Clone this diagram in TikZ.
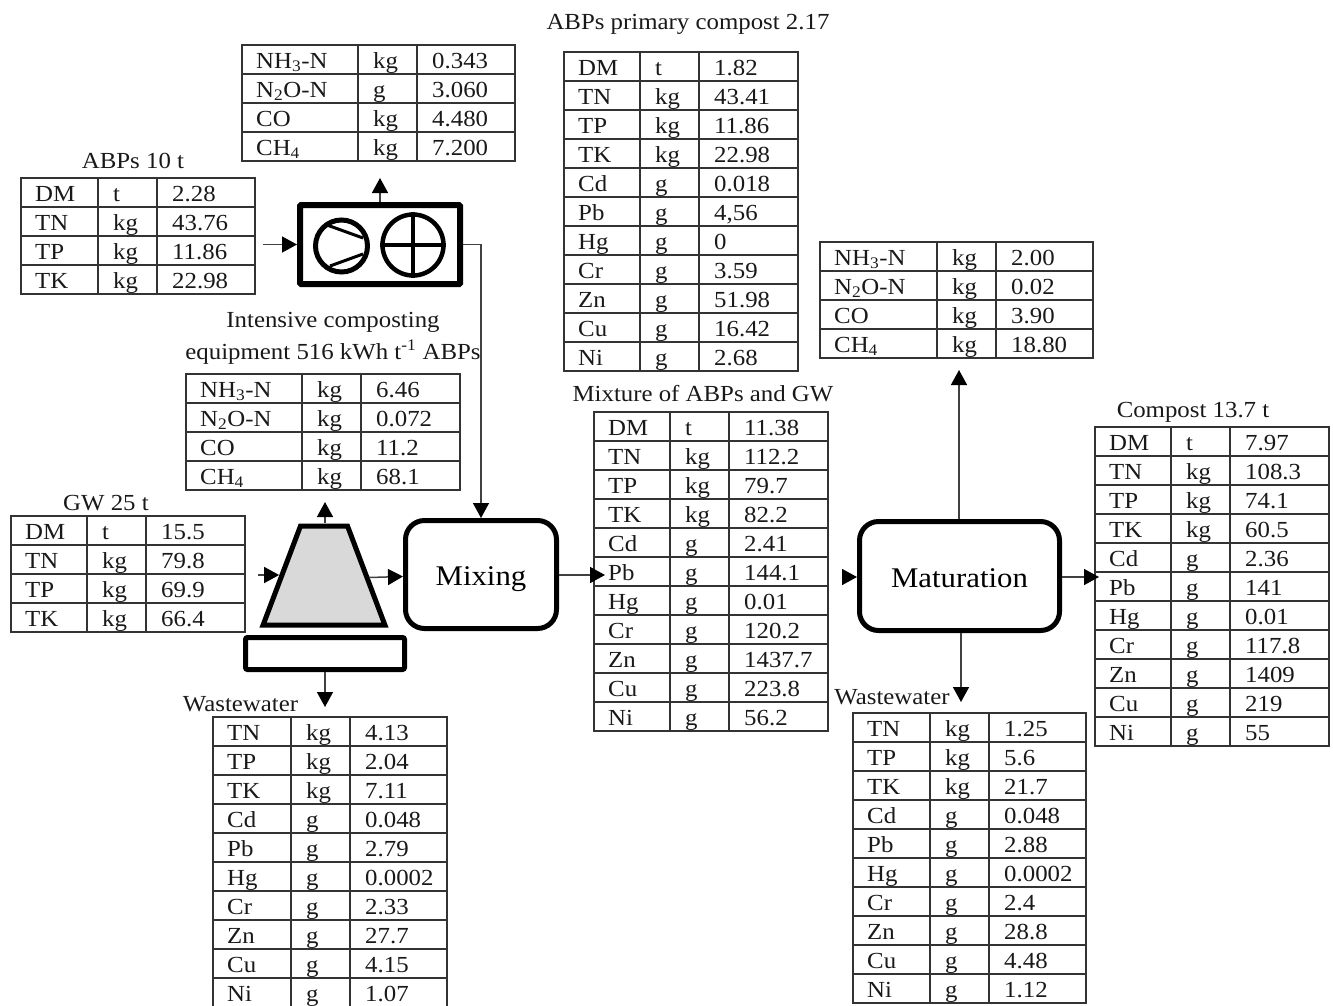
\documentclass[tikz,border=0pt]{standalone}
\usepackage{fontspec}
\setmainfont[FakeStretch=1.08]{Liberation Serif}
\usetikzlibrary{arrows.meta, positioning, shapes.geometric, calc}

% one table: name, column edges x0 x1 x2 x3, top edge, rows label/unit/value
\newcommand{\flowtable}[7]{
  \foreach \lab/\unit/\val [count=\r] in {#7} {
    \draw[tableline] (#2,#6+29*\r-29) rectangle (#5,#6+29*\r);
    \draw[tableline] (#3,#6+29*\r-29) -- (#3,#6+29*\r);
    \draw[tableline] (#4,#6+29*\r-29) -- (#4,#6+29*\r);
    \node[celltext, anchor=base west] (#1-lab\r) at (#2+14,#6+29*\r-6) {\lab};
    \node[celltext, anchor=base west] (#1-unit\r) at (#3+15,#6+29*\r-6) {\unit};
    \node[celltext, anchor=base west] (#1-val\r) at (#4+15,#6+29*\r-6) {\val};
  }
}

\begin{document}
\begin{tikzpicture}[
  x=1pt, y=-1pt,
  every node/.style={inner sep=0pt},
  celltext/.style={font=\fontsize{23}{26}\selectfont, text=black!90},
  caption/.style={font=\fontsize{23}{26}\selectfont, text=black!90, yshift=-1.5pt},
  process/.style={rectangle, rounded corners=19pt, draw=black, line width=5pt,
    font=\fontsize{28.5}{32}\selectfont, align=center, text height=22pt, text depth=0pt},
  tableline/.style={draw=black!80, line width=1.2pt},
  flow/.style={-{Triangle[length=15pt, width=16pt, color=black]}, draw=black!75, line width=1.5pt}
]
  \useasboundingbox (0,0) rectangle (1333,1005);

  % Equipment and process blocks
  \node[draw=black, line width=6pt, rounded corners=1pt, minimum width=160pt, minimum height=79pt] (fanbox) at (380,244.5) {};
  \node[circle, draw=black, line width=5pt, minimum size=52pt] (compressor) at (341.5,246) {};
  \node[circle, draw=black, line width=4.5pt, minimum size=61pt] (mixer) at (413,245) {};
  \draw[line width=3pt] (327,225) -- (363,238);
  \draw[line width=3pt] (330,266) -- (363,254);
  \draw[line width=4pt] (mixer.north) -- (mixer.south);
  \draw[line width=4pt] (mixer.west) -- (mixer.east);

  \node[trapezium, trapezium angle=69.3, draw=black, line width=5pt, fill=black!15,
    text width=47pt, text height=99pt, text depth=0pt] (tank) at (324,575.5) {\phantom{X}};
  \node[draw=black, line width=5pt, rounded corners=2pt, minimum width=159pt, minimum height=32pt] (drain) at (325,653.5) {};
  \node[process, minimum width=151pt, minimum height=108pt] (mixing) at (481,574.5) {Mixing};
  \node[process, minimum width=200pt, minimum height=109pt] (maturation) at (959.5,576) {Maturation};

  % Tables
  \node[caption] (abpstitle) at (133,159.5) {ABPs 10 t};
  \flowtable{abps}{21}{98}{157}{255}{178}{DM/t/2.28, TN/kg/43.76, TP/kg/11.86, TK/kg/22.98}

  \flowtable{fanair}{242}{358}{417}{515}{45}{NH\textsubscript{3}-N/kg/0.343, N\textsubscript{2}O-N/g/3.060, CO/kg/4.480, CH\textsubscript{4}/kg/7.200}

  \node[caption] (primarytitle) at (688,23) {ABPs primary compost 2.17};
  \flowtable{primary}{564}{640}{699}{798}{52}{DM/t/1.82, TN/kg/43.41, TP/kg/11.86, TK/kg/22.98, Cd/g/0.018, Pb/g/{4,56}, Hg/g/0, Cr/g/3.59, Zn/g/51.98, Cu/g/16.42, Ni/g/2.68}

  \node[caption] (intensivetitle) at (333,321) {Intensive composting};
  \node[caption] (equiptitle) at (333,351) {equipment 516 kWh t\textsuperscript{-1} ABPs};
  \flowtable{tankair}{186}{302}{361}{460}{374}{NH\textsubscript{3}-N/kg/6.46, N\textsubscript{2}O-N/kg/0.072, CO/kg/11.2, CH\textsubscript{4}/kg/68.1}

  \node[caption] (gwtitle) at (106,502) {GW 25 t};
  \flowtable{gw}{11}{87}{146}{245}{516}{DM/t/15.5, TN/kg/79.8, TP/kg/69.9, TK/kg/66.4}

  \node[caption] (mixturetitle) at (703,392) {Mixture of ABPs and GW};
  \flowtable{mixture}{594}{670}{729}{828}{412}{DM/t/11.38, TN/kg/112.2, TP/kg/79.7, TK/kg/82.2, Cd/g/2.41, Pb/g/144.1, Hg/g/0.01, Cr/g/120.2, Zn/g/1437.7, Cu/g/223.8, Ni/g/56.2}

  \flowtable{matair}{820}{937}{996}{1093}{242}{NH\textsubscript{3}-N/kg/2.00, N\textsubscript{2}O-N/kg/0.02, CO/kg/3.90, CH\textsubscript{4}/kg/18.80}

  \node[caption] (composttitle) at (1193,411) {Compost 13.7 t};
  \flowtable{compost}{1095}{1171}{1230}{1329}{427}{DM/t/7.97, TN/kg/108.3, TP/kg/74.1, TK/kg/60.5, Cd/g/2.36, Pb/g/141, Hg/g/0.01, Cr/g/117.8, Zn/g/1409, Cu/g/219, Ni/g/55}

  \node[caption] (wastetitle) at (240.5,703) {Wastewater};
  \flowtable{waste}{213}{291}{350}{447}{717}{TN/kg/4.13, TP/kg/2.04, TK/kg/7.11, Cd/g/0.048, Pb/g/2.79, Hg/g/0.0002, Cr/g/2.33, Zn/g/27.7, Cu/g/4.15, Ni/g/1.07}

  \node[caption] (matwastetitle) at (892,696) {Wastewater};
  \flowtable{matwaste}{853}{930}{989}{1086}{713}{TN/kg/1.25, TP/kg/5.6, TK/kg/21.7, Cd/g/0.048, Pb/g/2.88, Hg/g/0.0002, Cr/g/2.4, Zn/g/28.8, Cu/g/4.48, Ni/g/1.12}

  % Free ends of the connectors
  \coordinate (abpsin) at (263,244.5);
  \coordinate (fanout) at (380,178);
  \coordinate (gwin) at (258,575);
  \coordinate (tankout) at (325,502);
  \coordinate (drainout) at (325,707);
  \coordinate (mixout) at (605,575);
  \coordinate (matstub) at (843,577);
  \coordinate (matup) at (959,370);
  \coordinate (matdown) at (961,702);
  \coordinate (compostin) at (1099,577);

  % Flows
  \draw[flow] (abpsin) -- (fanbox.west);
  \draw[flow] (fanbox.north) -- (fanout);
  \draw[flow] (fanbox.east) -- (fanbox.east -| mixing.north) -- (mixing.north);
  \draw[flow] (gwin) -- (tank.west |- gwin);
  \draw[flow] (tank.north -| tankout) -- (tankout);
  \draw[flow] ([yshift=-2pt]tank.east) -- ([yshift=-2pt]mixing.west);
  \draw[flow] (drain.south -| drainout) -- (drainout);
  \draw[flow] (mixing.east |- mixout) -- (mixout);
  \draw[flow] (matstub) -- (maturation.west |- matstub);
  \draw[flow] (maturation.north -| matup) -- (matup);
  \draw[flow] (maturation.south -| matdown) -- (matdown);
  \draw[flow] (maturation.east |- compostin) -- (compostin);
\end{tikzpicture}
\end{document}
